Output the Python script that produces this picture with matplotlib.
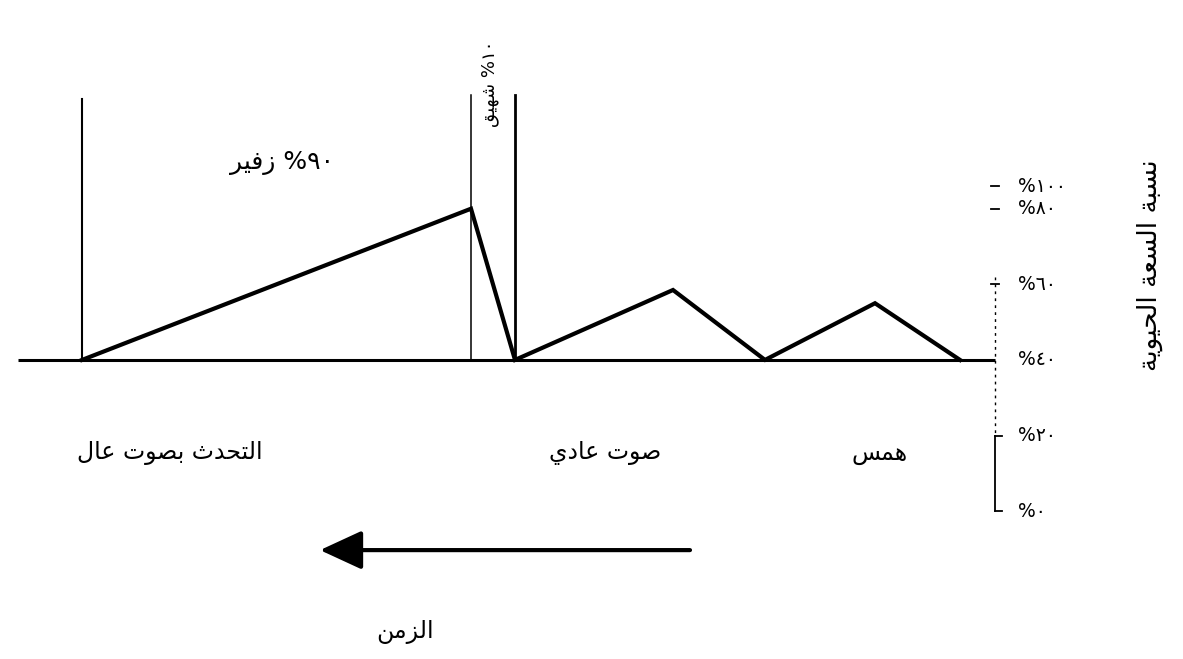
import re
import matplotlib
matplotlib.use("Agg")
import matplotlib.pyplot as plt

# --- minimal arabic shaping (matplotlib has no bidi / joining) ---
# base codepoint in Presentation Forms-B, and whether letter joins both sides
FORMS = {
    'ا': (0xFE8D, False), 'ب': (0xFE8F, True), 'ة': (0xFE93, False),
    'ت': (0xFE95, True), 'ث': (0xFE99, True), 'ح': (0xFEA1, True),
    'د': (0xFEA9, False), 'ر': (0xFEAD, False), 'ز': (0xFEAF, False),
    'س': (0xFEB1, True), 'ش': (0xFEB5, True), 'ص': (0xFEB9, True),
    'ع': (0xFEC9, True), 'ف': (0xFED1, True), 'ق': (0xFED5, True),
    'ل': (0xFEDD, True), 'م': (0xFEE1, True), 'ن': (0xFEE5, True),
    'ه': (0xFEE9, True), 'و': (0xFEED, False), 'ي': (0xFEF1, True),
}


def ar(text):
    out = []
    for i, ch in enumerate(text):
        if ch not in FORMS:
            out.append(ch)
            continue
        base, dual = FORMS[ch]
        prev = text[i - 1] if i > 0 else ''
        nxt = text[i + 1] if i + 1 < len(text) else ''
        jp = prev in FORMS and FORMS[prev][1]
        jn = dual and nxt in FORMS
        if jp and jn:
            out.append(chr(base + 3))
        elif jp:
            out.append(chr(base + 1))
        elif jn:
            out.append(chr(base + 2))
        else:
            out.append(chr(base))
    tokens = re.findall(r'[\u0660-\u06690-9]+|.', ''.join(out))
    return ''.join(tokens[::-1])


# --- data ---
# time runs right -> left (arrow), arbitrary units
time_pts = [0, 85, 195, 287, 445, 489, 878]
capacity = [40, 55, 40, 58.5, 40, 80, 40]
phase_edges = [878, 489, 445]  # loud speech start, exhale/inhale split

tick_vals = [0, 20, 40, 60, 80, 86]
tick_labels = ['٠%', '٢٠%', '٤٠%', '٦٠%', '٨٠%', '١٠٠%']

voice_labels = ['همس', 'صوت عادي', 'التحدث بصوت عال']
voice_pos = [80, 355, 790]

exhale_label = '٩٠% زفير'
inhale_label = '١٠% شهيق'
y_title = 'نسبة السعة الحيوية'
x_title = 'الزمن'

plt.rcParams['font.family'] = ['DejaVu Sans']

fig = plt.figure(figsize=(11.83, 6.59), dpi=100)
ax = fig.add_axes([0, 0, 1, 1])
ax.set_xlim(960, -223)
ax.set_ylim(-39.1, 135.2)
ax.axis('off')

# baseline
ax.plot([942, -35], [40, 40], color='black', lw=2.2, solid_capstyle='butt')

# phase separators
ax.plot([phase_edges[0]] * 2, [40, 109], color='black', lw=1.5)
ax.plot([phase_edges[1]] * 2, [40, 110], color='black', lw=1.1)
ax.plot([phase_edges[2]] * 2, [40, 110], color='black', lw=2.0)

# capacity curve
ax.plot(time_pts, capacity, color='black', lw=3.0, solid_joinstyle='miter')

# right-hand scale
ax_x = -35
ax.plot([ax_x, ax_x], [62, 20], color='black', lw=1.0, ls=(0, (2, 3)))
ax.plot([ax_x, ax_x], [20, 0], color='black', lw=1.3)
for v in tick_vals:
    if v in (0, 20):
        ax.plot([ax_x, ax_x - 7], [v, v], color='black', lw=1.3)
    elif v != 40:
        ax.plot([ax_x + 4, ax_x - 4], [v, v], color='black', lw=1.3)
for v, lab in zip(tick_vals, tick_labels):
    ax.text(-58, v, ar(lab), ha='left', va='center', fontsize=13.5)

ax.text(-190, 65, ar(y_title), rotation=90, ha='center', va='center',
        fontsize=19)

# phase labels
ax.text(678, 92, ar(exhale_label), ha='center', va='center', fontsize=18)
ax.text(470, 113, ar(inhale_label), rotation=90, ha='center', va='center',
        fontsize=13)

for t, lab in zip(voice_pos, voice_labels):
    ax.text(t, 15.5, ar(lab), ha='center', va='center', fontsize=17)

# time arrow
ax.annotate('', xy=(640, -10.3), xytext=(270, -10.3),
            arrowprops=dict(arrowstyle='-|>,head_length=1.3,head_width=0.6',
                            lw=3, color='black', mutation_scale=20,
                            shrinkA=0, shrinkB=0))
ax.text(555, -32, ar(x_title), ha='center', va='center', fontsize=17)

fig.savefig('out.png', dpi=100)
